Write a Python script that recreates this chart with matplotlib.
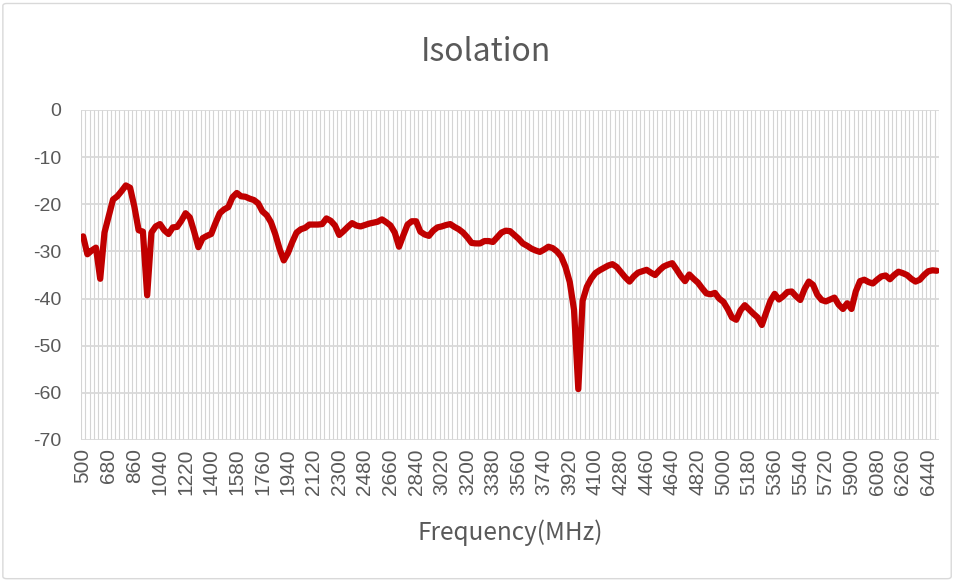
import matplotlib
matplotlib.use("Agg")
import matplotlib.pyplot as plt
from matplotlib.patches import FancyBboxPatch

# frequency points, 500 to 6500 MHz every 30 MHz
freqs = list(range(500, 6501, 30))

# isolation in dB
isolation = [
    -26.8, -30.6, -29.8, -29.2, -35.8, -26.0, -22.5, -19.0, -18.3, -17.2,
    -16.0, -16.5, -20.5, -25.5, -25.8, -39.3, -26.0, -24.7, -24.2, -25.5,
    -26.3, -24.9, -24.8, -23.5, -21.9, -22.8, -25.8, -29.1, -27.2, -26.7,
    -26.3, -24.0, -21.9, -21.1, -20.6, -18.5, -17.6, -18.3, -18.4, -18.8,
    -19.1, -19.8, -21.5, -22.3, -23.8, -26.3, -29.4, -31.9, -30.3, -28.0,
    -26.0, -25.3, -25.0, -24.3, -24.3, -24.3, -24.2, -23.0, -23.5, -24.5,
    -26.5, -25.7, -24.8, -24.0, -24.5, -24.7, -24.4, -24.1, -23.9, -23.7,
    -23.2, -23.8, -24.5, -26.0, -29.0, -26.6, -24.3, -23.6, -23.6, -25.8,
    -26.4, -26.7, -25.6, -24.9, -24.7, -24.4, -24.2, -24.8, -25.3, -26.0,
    -27.0, -28.2, -28.3, -28.3, -27.8, -27.8, -28.0, -27.0, -26.0, -25.6,
    -25.7, -26.5, -27.3, -28.3, -28.8, -29.4, -29.8, -30.1, -29.6, -29.0,
    -29.3, -30.0, -31.1, -33.3, -36.5, -42.4, -59.2, -40.5, -37.5, -35.8,
    -34.6, -34.0, -33.5, -33.0, -32.7, -33.3, -34.4, -35.5, -36.4, -35.3,
    -34.5, -34.2, -33.9, -34.5, -35.0, -34.0, -33.2, -32.8, -32.5, -33.8,
    -35.2, -36.3, -34.9, -35.8, -36.6, -37.8, -38.9, -39.1, -38.8, -40.0,
    -40.7, -42.2, -44.0, -44.5, -42.5, -41.4, -42.3, -43.2, -44.0, -45.6,
    -43.0, -40.5, -39.0, -40.2, -39.5, -38.6, -38.5, -39.5, -40.3, -38.0,
    -36.4, -37.1, -39.2, -40.3, -40.6, -40.2, -39.8, -41.3, -42.2, -41.0,
    -42.2, -38.5, -36.3, -36.0, -36.5, -36.8, -36.0, -35.3, -35.1, -35.9,
    -35.0, -34.3, -34.6, -35.0, -35.8, -36.4, -36.0, -35.0, -34.2, -34.0,
    -34.1,
]

yticks = [0, -10, -20, -30, -40, -50, -60, -70]

grid_c = "#d9d9d9"
text_c = "#595959"
tick_font = "Liberation Sans"
title_font = ["Noto Sans CJK SC", "DejaVu Sans"]

fig = plt.figure(figsize=(9.56, 5.81), dpi=100)
ax = fig.add_axes([81 / 956, 141 / 581, 858 / 956, 330 / 581])

# chart border
fig.patches.append(FancyBboxPatch((0.003, 0.004), 0.992, 0.99,
                                  boxstyle="round,pad=0,rounding_size=0.004",
                                  transform=fig.transFigure, fill=False,
                                  edgecolor=grid_c, linewidth=1))

n = len(freqs)
pos = list(range(n))

# category gridlines between points
for k in range(n + 1):
    ax.axvline(k - 0.5, color="#d4d4d4", linewidth=0.8, zorder=1)
for y in yticks:
    ax.axhline(y, color=grid_c, linewidth=1.3, zorder=1)

ax.plot(pos, isolation, color="#c00000", linewidth=4.5,
        solid_joinstyle="round", solid_capstyle="round", zorder=3)

ax.set_xlim(-0.5, n - 0.5)
ax.set_ylim(-70, 0)
ax.set_yticks(yticks)
ax.set_yticklabels([str(v) for v in yticks], fontsize=14, color=text_c,
                   fontfamily=tick_font)
ax.set_xticks(pos[::6])
ax.set_xticklabels([str(f) for f in freqs[::6]], rotation=90, fontsize=15,
                   color=text_c, fontfamily=tick_font)
ax.tick_params(axis="both", length=0)
ax.tick_params(axis="y", pad=14)
ax.tick_params(axis="x", pad=6)

for s in ax.spines.values():
    s.set_visible(False)

fig.text(0.508, 0.911, "Isolation", ha="center", va="center", fontsize=23,
         color=text_c, family=title_font)
fig.text(0.534, 0.083, "Frequency(MHz)", ha="center", va="center",
         fontsize=17.5, color=text_c, family=title_font)

fig.savefig("out.png", dpi=100)
